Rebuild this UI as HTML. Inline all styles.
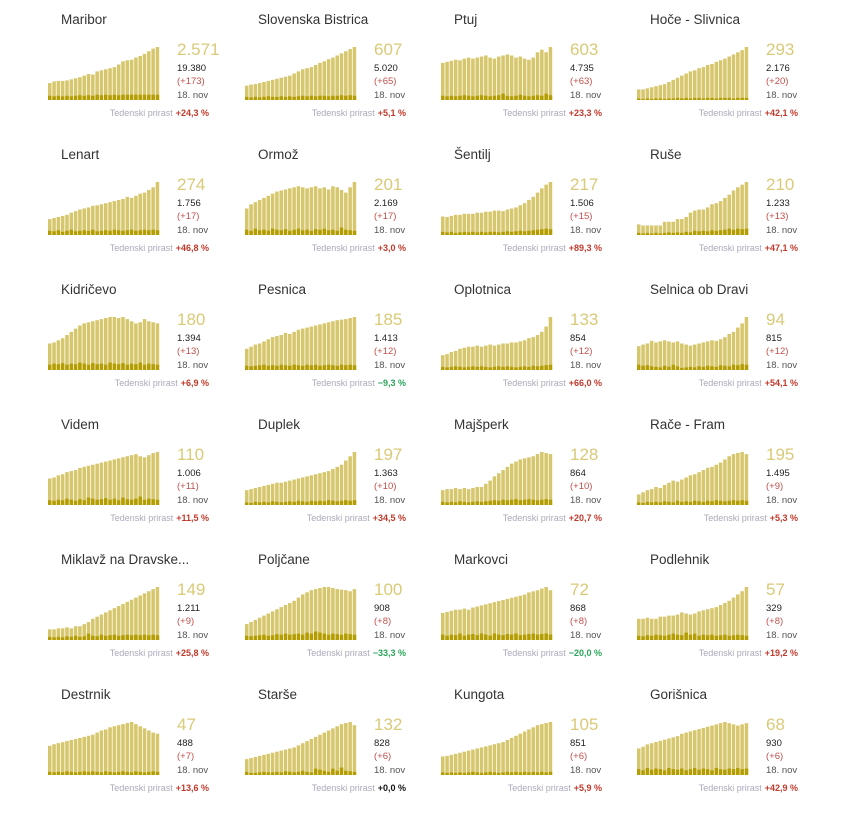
<!DOCTYPE html>
<html><head><meta charset="utf-8">
<style>
body{margin:0;background:#fff;width:860px;height:813px;overflow:hidden;font-family:"Liberation Sans",sans-serif;}
#root{position:relative;width:860px;height:813px;}
.panel{position:absolute;width:200px;height:130px;}
.title{position:absolute;left:13px;top:7px;font-size:13.5px;color:#333;white-space:nowrap;}
.big{position:absolute;left:129px;top:35px;font-size:17px;color:#d9ca78;}
.s1{position:absolute;left:129px;top:58px;font-size:9.5px;color:#222;}
.s2{position:absolute;left:129px;top:71px;font-size:9.5px;color:#c0504d;}
.s3{position:absolute;left:129px;top:85px;font-size:9.5px;color:#555;}
.foot{position:absolute;right:39px;top:103px;font-size:9px;color:#aab;white-space:nowrap;}
.foot b{margin-left:3px;}
svg{position:absolute;left:0;top:0;}
</style></head><body>
<div id="root"></div>
<script>
const names=["Maribor","Slovenska Bistrica","Ptuj","Hoče - Slivnica","Lenart","Ormož","Šentilj","Ruše","Kidričevo","Pesnica","Oplotnica","Selnica ob Dravi","Videm","Duplek","Majšperk","Rače - Fram","Miklavž na Dravske...","Poljčane","Markovci","Podlehnik","Destrnik","Starše","Kungota","Gorišnica"];
const bigVals=["2.571","607","603","293","274","201","217","210","180","185","133","94","110","197","128","195","149","100","72","57","47","132","105","68"];
const totals=["19.380","5.020","4.735","2.176","1.756","2.169","1.506","1.233","1.394","1.413","854","815","1.006","1.363","864","1.495","1.211","908","868","329","488","828","851","930"];
const daily=["(+173)","(+65)","(+63)","(+20)","(+17)","(+17)","(+15)","(+13)","(+13)","(+12)","(+12)","(+12)","(+11)","(+10)","(+10)","(+9)","(+9)","(+8)","(+8)","(+8)","(+7)","(+6)","(+6)","(+6)"];
const growth=["+24,3 %","+5,1 %","+23,3 %","+42,1 %","+46,8 %","+3,0 %","+89,3 %","+47,1 %","+6,9 %","−9,3 %","+66,0 %","+54,1 %","+11,5 %","+34,5 %","+20,7 %","+5,3 %","+25,8 %","−33,3 %","−20,0 %","+19,2 %","+13,6 %","+0,0 %","+5,9 %","+42,9 %"];
const active=[
[32,35,36,36,37,39,41,43,46,49,48,54,56,58,60,62,67,73,75,76,80,83,87,92,97,100],
[27,29,30,32,34,36,38,40,42,44,46,50,54,58,60,62,66,70,73,77,80,84,88,92,96,100],
[70,72,74,76,75,78,80,78,80,82,84,80,78,82,84,86,84,80,82,78,76,80,90,95,90,100],
[20,20,22,24,26,28,30,34,38,42,46,50,54,56,60,62,66,68,72,75,78,82,86,90,94,100],
[30,32,34,36,38,42,45,48,50,52,55,56,58,60,62,64,66,68,72,70,74,78,80,85,90,100],
[50,58,62,66,70,74,78,82,84,86,88,90,92,90,88,90,92,88,90,86,92,90,85,80,90,100],
[35,34,36,38,38,40,40,40,42,42,44,44,46,46,45,48,50,52,56,60,66,72,80,88,95,100],
[20,18,18,18,18,18,25,25,25,30,30,34,42,46,48,48,52,58,60,64,70,76,84,90,95,100],
[50,52,56,60,66,72,78,84,88,90,92,94,96,98,100,100,98,100,96,92,88,90,96,92,90,88],
[40,44,48,50,54,58,62,64,66,70,68,72,76,78,80,82,84,86,88,90,92,94,95,96,98,100],
[28,30,34,36,40,42,44,44,46,44,46,48,46,48,50,50,52,52,54,56,60,62,66,72,82,100],
[45,48,50,55,52,54,56,54,52,54,50,48,46,48,50,52,54,56,55,58,62,68,72,80,88,100],
[50,52,56,58,62,64,66,70,72,74,76,78,80,82,84,86,88,90,92,94,96,92,90,94,98,100],
[28,30,32,34,36,38,40,42,42,44,46,48,50,52,54,56,58,60,62,64,68,72,76,84,92,100],
[28,30,30,32,30,32,30,32,34,34,40,46,54,60,66,72,78,82,86,88,90,92,96,100,98,96],
[20,24,28,30,34,32,38,42,46,44,48,52,56,58,62,66,70,72,76,80,86,92,96,98,100,96],
[20,20,22,22,24,22,26,26,30,34,40,44,48,52,56,60,64,68,72,76,80,84,88,92,96,100],
[30,34,38,42,46,50,54,58,62,66,70,74,80,86,90,94,96,98,100,100,98,96,95,94,92,96],
[50,52,54,56,56,58,56,60,62,64,66,68,70,72,74,76,78,80,82,84,88,90,92,95,98,92],
[40,40,42,40,40,44,44,46,46,48,52,50,48,50,54,56,58,60,62,66,70,74,80,86,92,100],
[55,58,60,62,64,66,68,70,72,74,76,80,84,86,90,92,94,96,98,100,96,92,88,84,80,78],
[30,32,34,36,38,40,42,44,46,48,50,52,56,60,64,68,72,76,80,84,88,92,96,98,100,94],
[35,36,38,40,42,44,46,48,50,52,54,56,58,60,62,66,70,74,78,82,86,90,94,96,98,100],
[45,48,52,54,56,58,60,62,64,66,70,72,74,76,78,80,82,84,86,88,90,88,86,84,86,88]];
const newCases=[
[8,7,8,7,8,7,8,9,8,9,8,10,9,10,9,10,9,10,10,10,10,10,10,10,10,10],
[6,5,6,5,6,7,6,6,7,6,7,6,7,8,7,8,7,8,8,7,8,8,9,8,9,8],
[8,7,8,7,8,9,8,7,8,9,8,7,8,9,12,8,7,8,10,8,7,8,9,8,12,9],
[3,2,3,2,3,3,2,3,3,4,3,4,3,4,4,3,4,4,3,4,4,4,3,4,4,4],
[8,7,9,6,8,10,7,8,9,8,10,7,8,9,8,10,9,8,9,10,8,9,10,9,10,9],
[10,8,12,9,10,8,12,10,9,11,8,10,12,9,10,8,11,10,12,9,10,8,14,10,9,8],
[6,5,6,4,5,6,5,6,5,6,5,6,6,5,6,7,6,7,8,7,8,9,10,11,12,11],
[4,3,4,3,4,3,4,5,4,5,4,6,5,8,7,8,7,9,8,9,10,12,10,12,11,12],
[10,12,11,13,10,12,11,14,12,10,13,11,12,10,14,12,11,13,10,12,11,14,10,12,11,10],
[8,7,8,9,10,8,9,8,10,9,8,10,9,8,10,9,10,8,9,10,9,8,10,9,10,9],
[6,5,6,7,6,5,6,7,6,7,6,5,6,7,6,7,6,5,6,7,6,8,7,8,9,10],
[10,8,9,7,6,5,8,6,10,7,4,5,6,5,7,6,8,7,6,9,8,7,10,9,11,10],
[9,8,10,9,12,10,8,11,9,14,12,10,11,13,10,12,9,14,11,10,12,16,10,12,11,10],
[5,4,6,5,6,5,7,6,5,6,7,6,8,7,6,8,7,8,7,9,8,7,8,9,8,9],
[6,5,6,5,7,6,5,6,7,6,7,8,9,8,10,9,10,11,9,10,11,10,9,10,11,10],
[5,4,6,5,6,5,7,6,5,8,6,7,6,8,7,6,8,7,9,8,7,8,9,8,9,8],
[6,5,6,5,7,6,8,6,7,12,8,7,10,8,9,10,8,9,10,9,10,9,10,9,10,9],
[8,7,8,9,10,8,9,11,10,12,10,11,12,10,14,12,16,14,12,10,12,11,10,12,11,10],
[10,8,10,9,12,8,10,11,9,12,10,8,12,10,9,11,10,12,9,10,11,12,10,11,12,10],
[8,7,9,8,10,9,8,10,12,10,9,14,10,12,8,10,9,10,8,9,10,8,9,10,9,8],
[6,5,6,5,7,6,5,6,7,6,7,6,5,7,6,5,6,7,6,5,7,6,5,6,7,6],
[6,4,4,5,6,5,5,6,5,7,6,5,6,8,6,5,12,10,8,6,12,8,14,8,7,6],
[5,4,5,4,5,4,5,6,5,4,5,6,5,4,5,6,5,6,5,6,5,6,5,6,5,6],
[10,8,12,9,11,10,8,12,10,9,11,8,10,12,9,11,10,8,12,10,9,11,10,12,10,11]];
const ns="http://www.w3.org/2000/svg";
const root=document.getElementById('root');
const colX=[48,245,441,637];
const CH=53, CW=112, BASE=95;
function yScale(v,maxV){return CH*v/maxV;}
names.forEach((nm,i)=>{
  const p=document.createElement('div');
  p.className='panel';
  
  
  p.style.left=colX[i%4]+'px';
  p.style.top=(5+135*Math.floor(i/4))+'px';
  const svg=document.createElementNS(ns,'svg');
  svg.setAttribute('width','200');svg.setAttribute('height','130');
  
  
  const vals=active[i], nv=newCases[i];
  const maxV=Math.max(...vals);
  const bw=CW/vals.length;
  vals.forEach((v,j)=>{
    const h=yScale(v,maxV);
    const r=document.createElementNS(ns,'rect');
    
    
    r.setAttribute('x',(j*bw).toFixed(2));r.setAttribute('y',(BASE-h).toFixed(2));
    r.setAttribute('width',(bw-0.8).toFixed(2));r.setAttribute('height',h.toFixed(2));
    r.setAttribute('fill','#d6c66c');
    svg.appendChild(r);
    const h2=yScale(nv[j],maxV);
    const r2=document.createElementNS(ns,'rect');
    
    
    r2.setAttribute('x',(j*bw).toFixed(2));r2.setAttribute('y',(BASE-h2).toFixed(2));
    r2.setAttribute('width',(bw-0.8).toFixed(2));r2.setAttribute('height',h2.toFixed(2));
    r2.setAttribute('fill','#b39d00');
    svg.appendChild(r2);
  });
  p.appendChild(svg);
  const g=growth[i];
  const gc=g.startsWith('−')?'#2aa55a':(g==='+0,0 %'?'#111':'#c0392b');
  p.insertAdjacentHTML('beforeend',
   `<div class="title">${nm}</div>
    <div class="big">${bigVals[i]}</div>
    <div class="s1">${totals[i]}</div>
    <div class="s2">${daily[i]}</div>
    <div class="s3">18. nov</div>
    <div class="foot">Tedenski prirast<b style="color:${gc}">${g}</b></div>`);
  root.appendChild(p);
});
</script>
</body></html>
